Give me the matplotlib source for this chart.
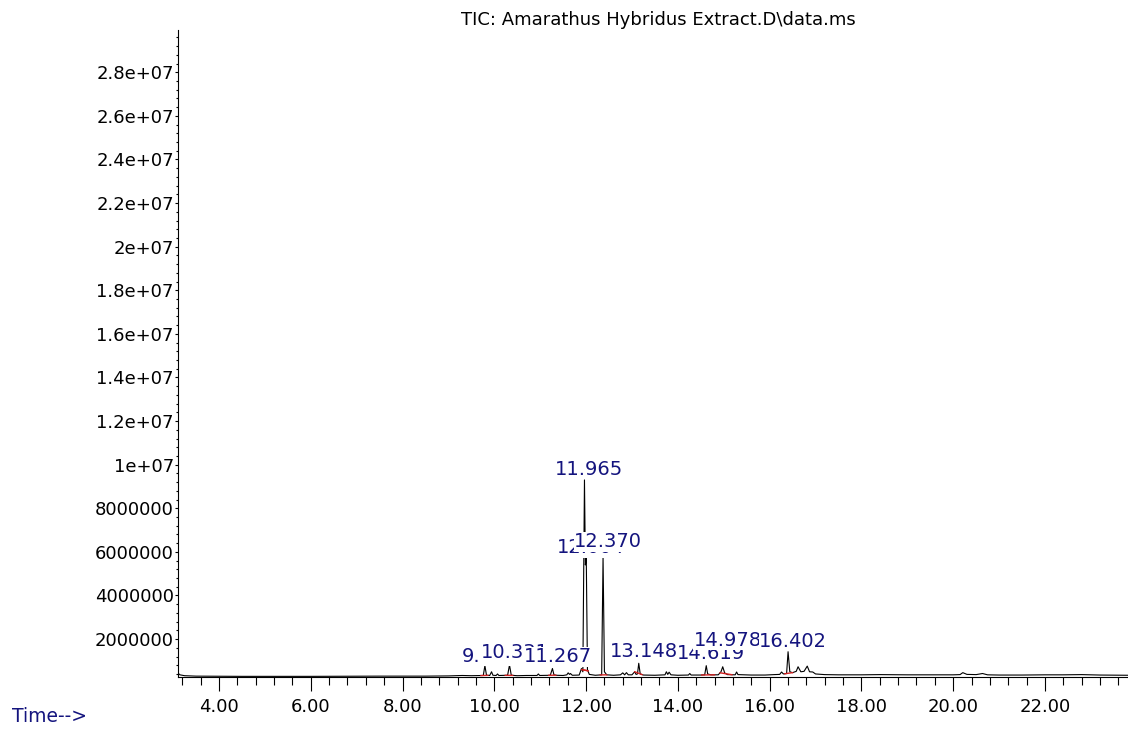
import numpy as np
import matplotlib.pyplot as plt
from matplotlib.ticker import MultipleLocator, FuncFormatter

# TIC trace: retention time (min) and abundance (counts)
rt = [3.10, 3.15, 3.25, 3.50, 4.50, 6.00, 7.50, 8.50, 9.00, 9.30, 9.50,
      9.76, 9.795, 9.83, 9.90, 9.94, 9.97, 10.04, 10.07, 10.10,
      10.29, 10.331, 10.37, 10.50, 10.70, 10.93, 10.96, 10.99,
      11.22, 11.267, 11.30, 11.35, 11.50, 11.58, 11.61, 11.64, 11.66, 11.70,
      11.85, 11.90, 11.93, 11.965, 11.985, 12.004, 12.03, 12.07,
      12.20, 12.34, 12.370, 12.40, 12.45,
      12.60, 12.75, 12.80, 12.84, 12.88, 12.92, 13.00, 13.06, 13.09, 13.12,
      13.148, 13.18, 13.25, 13.50, 13.72, 13.75, 13.78, 13.81, 13.85,
      14.00, 14.23, 14.26, 14.29, 14.50, 14.585, 14.619, 14.65, 14.72,
      14.88, 14.94, 14.978, 15.02, 15.08, 15.25, 15.28, 15.31,
      15.60, 15.90, 16.10, 16.22, 16.26, 16.30, 16.37, 16.402, 16.44, 16.50,
      16.58, 16.62, 16.68, 16.75, 16.82, 16.87, 16.94, 17.00, 17.20,
      17.50, 18.00, 18.40, 19.00, 19.60, 20.00, 20.15, 20.21, 20.30, 20.50,
      20.64, 20.75, 21.00, 21.50, 22.00, 22.40, 22.80, 23.20, 23.81]
abundance = [0.45, 0.36, 0.32, 0.30, 0.29, 0.29, 0.30, 0.30, 0.31, 0.33, 0.32,
             0.33, 0.78, 0.34, 0.33, 0.50, 0.34, 0.33, 0.40, 0.33,
             0.34, 0.81, 0.34, 0.32, 0.33, 0.33, 0.40, 0.33,
             0.34, 0.65, 0.36, 0.34, 0.33, 0.36, 0.45, 0.38, 0.42, 0.34,
             0.35, 0.65, 0.50, 9.30, 5.40, 5.80, 0.60, 0.38,
             0.34, 0.36, 5.76, 0.50, 0.36,
             0.34, 0.36, 0.45, 0.36, 0.46, 0.36, 0.36, 0.50, 0.38, 0.40,
             0.89, 0.40, 0.35, 0.34, 0.36, 0.50, 0.38, 0.48, 0.36,
             0.34, 0.35, 0.42, 0.35, 0.35, 0.36, 0.78, 0.40, 0.36,
             0.36, 0.50, 0.73, 0.45, 0.37, 0.36, 0.49, 0.37,
             0.35, 0.35, 0.37, 0.38, 0.49, 0.40, 0.42, 1.42, 0.50, 0.46,
             0.52, 0.73, 0.50, 0.52, 0.76, 0.50, 0.49, 0.40, 0.37,
             0.36, 0.36, 0.37, 0.36, 0.36, 0.36, 0.37, 0.46, 0.38, 0.37,
             0.42, 0.36, 0.35, 0.35, 0.36, 0.36, 0.37, 0.35, 0.34]
abundance = np.array(abundance) * 1e6

# integrated peaks
peak_rt = [9.795, 10.331, 11.267, 11.965, 12.004, 12.370, 13.148, 14.619, 14.978, 16.402]
peak_label = ['9.795', '10.331', '11.267', '11.965', '12.004', '12.370',
              '13.148', '14.619', '14.978', '16.402']
int_start = [9.71, 10.24, 11.19, 11.91, 11.91, 12.31, 13.06, 14.52, 14.92, 16.33]
int_end = [9.86, 10.40, 11.34, 12.04, 12.04, 12.45, 13.22, 14.80, 15.18, 16.50]
label_lift = [3, 5, 4.5, 3.5, 2, 7, 4.5, 4.5, 15, 3.5]  # points above apex

navy = '#14147e'

fig = plt.figure(figsize=(11.28, 7.55), dpi=100)
ax = fig.add_axes([0.1578, 0.1033, 0.8422, 0.857])

ax.plot(rt, abundance, color='black', lw=0.8, zorder=2)

for s, e in zip(int_start, int_end):
    ax.plot([s, e], np.interp([s, e], rt, abundance), color='#d42020', lw=1.0, zorder=3)

for t, lab, lift in zip(peak_rt, peak_label, label_lift):
    h = np.interp(t, rt, abundance)
    ax.annotate(lab, (t, h), xytext=(3.6, lift), textcoords='offset points',
                ha='center', va='baseline', fontsize=14, color=navy, zorder=4,
                bbox=dict(facecolor='white', edgecolor='none', pad=0.3))

ax.set_xlim(3.107, 23.81)
ax.set_ylim(0.26e6, 2.994e7)

ax.xaxis.set_minor_locator(MultipleLocator(0.4))
ax.xaxis.set_major_formatter(FuncFormatter(lambda v, p: f'{v:.2f}'))
ax.set_xticks(np.arange(4, 23, 2))

ax.set_yticks(np.arange(2e6, 2.9e7, 2e6))
ax.yaxis.set_minor_locator(MultipleLocator(4e5))


def yfmt(v, p):
    if v < 1e7:
        return f'{v:.0f}'
    return f'{v:.1e}'.replace('.0e', 'e')


ax.yaxis.set_major_formatter(FuncFormatter(yfmt))

ax.tick_params(axis='x', which='major', length=10, width=0.8, pad=5, labelsize=13)
ax.tick_params(axis='x', which='minor', length=5.5, width=0.8)
ax.tick_params(axis='y', which='major', length=2.5, width=0.8, pad=0.5, labelsize=13)
ax.tick_params(axis='y', which='minor', length=1.5, width=0.8)

for side in ['top', 'right']:
    ax.spines[side].set_visible(False)
for side in ['left', 'bottom']:
    ax.spines[side].set_linewidth(0.8)

fig.text(658 / 1128, 1 - 20 / 755, 'TIC: Amarathus Hybridus Extract.D\\data.ms',
         ha='center', va='center', fontsize=13)
fig.text(12 / 1128, 1 - 717 / 755, 'Time-->', ha='left', va='center',
         fontsize=13.5, color=navy)

plt.savefig('out.png', dpi=100)
